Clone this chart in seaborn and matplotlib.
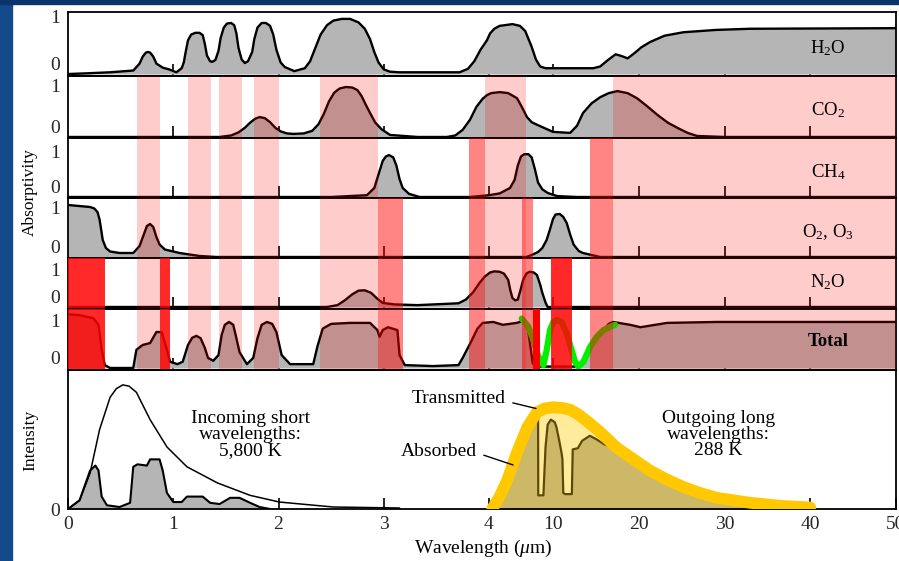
import numpy as np
import matplotlib
matplotlib.use('Agg')
import matplotlib.pyplot as plt
import seaborn as sns
from matplotlib.patches import Rectangle

# ---- absorptivity curves (wavelength in micrometres, absorptivity 0-1) ----
h2o_x = [0, 0.15, 0.40, 0.62, 0.68, 0.71, 0.74, 0.76, 0.78, 0.81, 0.84, 0.90, 0.96, 1.03, 1.08, 1.10,
         1.12, 1.14, 1.17, 1.21, 1.25, 1.28, 1.30, 1.32, 1.35, 1.37, 1.40, 1.43, 1.45, 1.48, 1.51, 1.55,
         1.58, 1.60, 1.62, 1.65, 1.68, 1.71, 1.75, 1.77, 1.80, 1.84, 1.88, 1.92, 1.95, 1.98, 2.02, 2.06,
         2.15, 2.25, 2.30, 2.35, 2.40, 2.46, 2.52, 2.60, 2.68, 2.76, 2.82, 2.87, 2.91, 2.95, 3.00, 3.06,
         3.15, 3.72, 3.80, 3.86, 3.92, 3.98, 4.1, 4.5, 5.0, 6.2, 6.9, 7.4, 8.0, 8.4, 8.8, 9.3, 14.7, 15.5,
         16.4, 17.3, 18.0, 18.7, 19.5, 20.3, 21.3, 23.0, 25.2, 29.0, 33.0, 50]
h2o_y = [0, 0.01, 0.03, 0.06, 0.18, 0.30, 0.37, 0.38, 0.37, 0.30, 0.18, 0.11, 0.08, 0.03, 0.10, 0.20,
         0.40, 0.58, 0.68, 0.71, 0.71, 0.67, 0.52, 0.32, 0.22, 0.21, 0.24, 0.40, 0.62, 0.80, 0.87, 0.88,
         0.84, 0.70, 0.45, 0.25, 0.19, 0.22, 0.38, 0.60, 0.80, 0.88, 0.88, 0.83, 0.68, 0.42, 0.20, 0.12,
         0.05, 0.10, 0.22, 0.45, 0.68, 0.84, 0.92, 0.95, 0.95, 0.89, 0.78, 0.60, 0.38, 0.20, 0.08, 0.04,
         0.03, 0.03, 0.09, 0.22, 0.42, 0.58, 0.70, 0.78, 0.83, 0.86, 0.83, 0.74, 0.47, 0.25, 0.13, 0.10, 0.10, 0.13,
         0.24, 0.34, 0.31, 0.27, 0.36, 0.46, 0.55, 0.66, 0.72, 0.76, 0.78, 0.79]

co2_x = [0, 1.44, 1.55, 1.62, 1.68, 1.73, 1.78, 1.82, 1.87, 1.92, 1.97, 2.02, 2.08, 2.14, 2.24, 2.32,
         2.38, 2.43, 2.48, 2.53, 2.58, 2.64, 2.70, 2.75, 2.79, 2.83, 2.87, 2.92, 2.98, 3.06, 3.32, 3.60,
         3.68, 3.75, 3.82, 3.88, 3.94, 3.98, 4.2, 5.03, 5.8, 6.63, 7.1, 7.56, 8.0, 8.5, 10.0, 12.0,
         12.8, 13.5, 14.5, 15.5, 16.5, 17.5, 18.7, 19.8, 21.0, 22.2, 23.4, 24.5, 25.7, 26.8, 30, 50]
co2_y = [0, 0, 0.03, 0.09, 0.18, 0.28, 0.36, 0.39, 0.37, 0.29, 0.18, 0.11, 0.07, 0.06, 0.07, 0.12,
         0.25, 0.45, 0.70, 0.87, 0.95, 0.98, 0.97, 0.92, 0.80, 0.63, 0.47, 0.28, 0.15, 0.04, 0, 0,
         0.03, 0.14, 0.34, 0.59, 0.75, 0.82, 0.86, 0.88, 0.86, 0.76, 0.58, 0.39, 0.29, 0.24, 0.10, 0.08,
         0.22, 0.47, 0.66, 0.78, 0.86, 0.90, 0.86, 0.76, 0.60, 0.43, 0.28, 0.18, 0.08, 0.02, 0, 0]

ch4_x = [0, 2.50, 2.84, 2.91, 2.95, 2.99, 3.02, 3.05, 3.09, 3.12, 3.15, 3.18, 3.24, 3.34, 3.82, 4.0,
         5.0, 5.97, 6.4, 6.7, 7.0, 7.3, 7.7, 8.0, 8.3, 8.6, 9.0, 9.5, 10.5, 12.8, 50]
ch4_y = [0, 0, 0.04, 0.20, 0.50, 0.80, 0.90, 0.93, 0.88, 0.70, 0.40, 0.20, 0.07, 0, 0, 0.04,
         0.08, 0.20, 0.38, 0.70, 0.90, 0.95, 0.95, 0.88, 0.62, 0.32, 0.17, 0.09, 0.02, 0, 0]

o3_x = [0, 0.21, 0.25, 0.28, 0.30, 0.33, 0.36, 0.40, 0.49, 0.62, 0.68, 0.72, 0.75, 0.78, 0.81, 0.84,
        0.87, 0.92, 1.06, 1.25, 1.41, 7.5, 8.0, 8.6, 9.0, 9.4, 9.7, 10.0, 10.3, 10.8, 11.2, 11.6, 12.0,
        12.4, 13.0, 13.5, 15.5, 50]
o3_y = [1.04, 1.0, 0.97, 0.90, 0.75, 0.34, 0.18, 0.11, 0.08, 0.08, 0.22, 0.45, 0.62, 0.66, 0.60, 0.40,
        0.25, 0.15, 0.08, 0.02, 0, 0, 0.04, 0.10, 0.18, 0.34, 0.54, 0.76, 0.85, 0.86, 0.80, 0.68, 0.45,
        0.25, 0.12, 0.08, 0, 0]

n2o_x = [0, 2.46, 2.56, 2.63, 2.70, 2.76, 2.82, 2.88, 2.94, 2.99, 3.1, 3.32, 3.71, 3.78, 3.85, 3.91,
         3.96, 4.1, 4.5, 5.0, 5.4, 5.8, 6.0, 6.2, 6.45, 6.7, 6.95, 7.2, 7.5, 7.8, 8.2, 8.5, 8.8, 9.0,
         9.3, 9.5, 50]
n2o_y = [0, 0, 0.05, 0.18, 0.34, 0.44, 0.45, 0.38, 0.22, 0.11, 0.07, 0.05, 0.10, 0.20, 0.40, 0.65,
         0.82, 0.93, 0.96, 0.95, 0.90, 0.73, 0.45, 0.24, 0.18, 0.20, 0.45, 0.73, 0.90, 0.95, 0.93, 0.86, 0.60, 0.38,
         0.12, 0, 0]

tot_x = [0, 0.11, 0.24, 0.29, 0.32, 0.35, 0.40, 0.62, 0.65, 0.71, 0.78, 0.84, 0.89, 0.94, 0.97, 1.04,
         1.09, 1.14, 1.18, 1.22, 1.26, 1.30, 1.33, 1.38, 1.43, 1.46, 1.49, 1.53, 1.57, 1.60, 1.63, 1.70,
         1.76, 1.80, 1.84, 1.89, 1.94, 1.98, 2.03, 2.11, 2.33, 2.37, 2.42, 2.50, 2.68, 2.87, 2.94, 2.96,
         2.99, 3.04, 3.13, 3.15, 3.20, 3.47, 3.71, 3.75, 3.83, 3.89, 3.94, 4.4, 5.3, 6.6, 7.2, 7.6, 8.1,
         8.4, 13.0, 14.0, 15.0, 16.5, 17.0, 19.0, 20.2, 23.3, 29.2, 50]
tot_y = [1.12, 1.10, 1.04, 0.90, 0.38, 0.06, 0, 0, 0.38, 0.48, 0.52, 0.75, 0.75, 0.38, 0.13, 0.08,
         0.13, 0.48, 0.63, 0.67, 0.62, 0.42, 0.21, 0.15, 0.27, 0.69, 0.90, 0.96, 0.90, 0.62, 0.33, 0.08,
         0.21, 0.62, 0.90, 0.96, 0.92, 0.75, 0.27, 0.08, 0.08, 0.45, 0.82, 0.92, 0.94, 0.94, 0.79, 0.65,
         0.79, 0.85, 0.79, 0.27, 0.06, 0.04, 0.06, 0.21, 0.55, 0.82, 0.94, 0.96, 0.90, 0.94, 0.98, 0.90, 0.10,
         0.03, 0.03, 0.30, 0.60, 0.92, 0.96, 0.90, 0.85, 0.94, 0.96, 0.96]

# highlighted atmospheric window (green)
win_x = [7.07, 7.69, 8.16, 8.62, 9.09, 9.41, 9.72, 10.04, 10.43, 11.01, 11.6, 12.18, 12.57, 12.96,
         13.55, 14.33, 15.11, 15.89, 16.67, 17.25]
win_y = [1.03, 0.86, 0.58, 0.24, 0.06, 0.37, 0.79, 0.96, 1.0, 0.96, 0.72, 0.37, 0.13, 0.03,
         0.13, 0.44, 0.65, 0.79, 0.86, 0.90]

panel_names = [r'H$_2$O', r'CO$_2$', r'CH$_4$', r'O$_2$, O$_3$', r'N$_2$O', 'Total']
panel_x = [h2o_x, co2_x, ch4_x, o3_x, n2o_x, tot_x]
panel_y = [h2o_y, co2_y, ch4_y, o3_y, n2o_y, tot_y]

# shaded absorption bands (wavelength ranges) and first panel they start in
light_bands = [(0.66, 0.87), (1.14, 1.36), (1.43, 1.65), (1.77, 2.0), (2.39, 2.95), (3.96, 7.5), (17.0, 50)]
dark_bands_ch4 = [(3.81, 3.96), (14.3, 17.0)]
dark_bands_o3 = [(2.95, 3.18), (7.1, 8.1)]
bright_bands = [(0, 0.35), (0.87, 0.97), (9.8, 12.2)]
red_bar = [(8.1, 8.8)]

# ---- intensity panel ----
sun_x = [0, 0.11, 0.21, 0.30, 0.40, 0.46, 0.52, 0.58, 0.65, 0.78, 0.94, 1.13, 1.42, 1.73, 2.01, 2.52, 3.15]
sun_y = [0, 0.07, 0.29, 0.64, 0.90, 0.97, 1.0, 0.99, 0.94, 0.72, 0.50, 0.34, 0.21, 0.11, 0.056, 0.016, 0.008]
sun_tr_x = [0, 0.11, 0.21, 0.26, 0.29, 0.32, 0.37, 0.49, 0.59, 0.62, 0.66, 0.75, 0.78, 0.87, 0.90, 0.94,
            1.0, 1.08, 1.13, 1.28, 1.35, 1.44, 1.54, 1.63, 1.73, 1.82, 1.92]
sun_tr_y = [0, 0.07, 0.31, 0.35, 0.31, 0.10, 0.03, 0.016, 0.05, 0.34, 0.36, 0.35, 0.40, 0.40, 0.31, 0.13,
            0.056, 0.056, 0.10, 0.10, 0.05, 0.04, 0.09, 0.09, 0.05, 0.016, 0]
earth_x = [4.3, 5.0, 5.7, 6.6, 7.6, 8.5, 9.2, 10, 11, 12, 13, 14.3, 15.8, 17.5, 19.4, 21.3, 23.2, 25.1,
           27.1, 29.1, 33, 36.8, 40]
earth_y = [0.0, 0.10, 0.23, 0.45, 0.66, 0.78, 0.81, 0.82, 0.815, 0.80, 0.76, 0.69, 0.60, 0.49, 0.40, 0.31,
           0.24, 0.18, 0.13, 0.09, 0.05, 0.024, 0.012]
earth_abs_x = [4.3, 5.7, 6.6, 7.6, 8.5, 8.6, 8.62, 9.1, 9.3, 9.5, 9.8, 10.2, 10.4, 10.7, 11.0, 11.1, 11.2,
               11.4, 12.2, 12.3, 12.9, 13.4, 14.3, 15.1, 16.0, 17.5, 21.3, 25.1, 29.1, 33, 36.8, 40]
earth_abs_y = [0.0, 0.23, 0.45, 0.66, 0.76, 0.76, 0.11, 0.11, 0.50, 0.68, 0.72, 0.70, 0.66, 0.56, 0.45, 0.40,
               0.13, 0.12, 0.12, 0.48, 0.49, 0.55, 0.59, 0.56, 0.52, 0.49, 0.31, 0.18, 0.09, 0.05, 0.024, 0.012]

tick_vals = [0, 1, 2, 3, 4, 10, 20, 30, 40, 50]

# piecewise wavelength axis: 0-4 stretched, 4-10 and 10-50 compressed
XK = [0, 4, 10, 50]
PK = [0, 421, 485, 828]


def fwd(x):
    return np.interp(x, XK, PK)


def inv(p):
    return np.interp(p, PK, XK)


sns.set_theme(style='white')
plt.rcParams['font.family'] = ['Liberation Serif', 'DejaVu Serif']
plt.rcParams['mathtext.fontset'] = 'custom'
plt.rcParams['mathtext.rm'] = 'Liberation Serif'
plt.rcParams['mathtext.it'] = 'Liberation Serif:italic'
plt.rcParams['mathtext.bf'] = 'Liberation Serif:bold'
plt.rcParams['text.color'] = 'black'

W, H = 899, 561
fig = plt.figure(figsize=(W / 100, H / 100), dpi=100)
fig.patch.set_facecolor('white')
fig.add_artist(Rectangle((0, 0), 12 / W, 1, transform=fig.transFigure, color='#124a8a', zorder=0))
fig.add_artist(Rectangle((0, 1 - 4 / H), 1, 4 / H, transform=fig.transFigure, color='#0b3468', zorder=0))


def box(top, bottom):
    return [68 / W, 1 - bottom / H, (896 - 68) / W, (bottom - top) / H]


edges = [12, 76, 138, 198, 258, 309, 370]
ylims = [(-0.034, 1.069), (-0.02, 1.196), (-0.022, 1.31), (-0.02, 1.18), (-0.054, 1.32), (-0.042, 1.23)]
name_y = [48, 110, 172, 232, 282, 342]

band_groups = [(light_bands, 1, 0.2), (dark_bands_ch4, 2, 0.48), (dark_bands_o3, 3, 0.48),
               (bright_bands, 4, 0.84), (red_bar, 5, 1.0)]

for i in range(6):
    ax = fig.add_axes(box(edges[i], edges[i + 1]))
    ax.set_facecolor('none')
    ax.fill_between(panel_x[i], panel_y[i], 0, color='#b5b5b5', lw=0, zorder=1)
    sns.lineplot(x=panel_x[i], y=panel_y[i], ax=ax, color='black', lw=1.7,
                 sort=False, estimator=None, zorder=2, solid_joinstyle='round')
    if i == 5:
        sns.lineplot(x=win_x, y=win_y, ax=ax, color='#00f000', lw=4.5,
                     sort=False, estimator=None, zorder=2.2, solid_capstyle='round',
                     solid_joinstyle='round')
    for bands, first, alpha in band_groups:
        if i >= first:
            for a, b in bands:
                ax.axvspan(a, b, color='red', alpha=alpha, lw=0, zorder=3)
    ax.set_xscale('function', functions=(fwd, inv))
    ax.set_xlim(0, 50)
    ax.set_ylim(*ylims[i])
    ax.set_xticks(tick_vals[1:-1])
    ax.set_xticklabels([])
    ax.set_yticks([0, 1], ['0', '1'])
    ax.get_yticklabels()[0].set_verticalalignment('bottom')
    ax.tick_params(axis='x', direction='in', length=9, width=1.2, color='black', bottom=True)
    ax.tick_params(axis='y', length=0, pad=6, labelsize=14)
    ax.set_xlabel('')
    ax.set_ylabel('')
    for s in ax.spines.values():
        s.set_color('black')
        s.set_linewidth(1.3)
    fig.text(828 / W, 1 - name_y[i] / H, panel_names[i], ha='center', va='center', fontsize=13.5,
             fontweight='bold' if i == 5 else 'normal', zorder=6)

# intensity panel
ax = fig.add_axes(box(370, 509))
ax.set_facecolor('none')
ax.fill_between(sun_tr_x, sun_tr_y, 0, color='#b5b5b5', lw=0, zorder=1)
sns.lineplot(x=sun_tr_x, y=sun_tr_y, ax=ax, color='black', lw=1.5, sort=False, estimator=None, zorder=2)
sns.lineplot(x=sun_x, y=sun_y, ax=ax, color='black', lw=1.1, sort=False, estimator=None, zorder=2)
ax.fill_between(earth_x, earth_y, 0, color='#ffeb99', lw=0, zorder=1)
ax.fill_between(earth_abs_x, earth_abs_y, 0, color='#cdb868', lw=0, zorder=1.1)
sns.lineplot(x=earth_abs_x, y=earth_abs_y, ax=ax, color='#5e4a08', lw=1.6, sort=False, estimator=None, zorder=2)
sns.lineplot(x=earth_x, y=earth_y, ax=ax, color='#ffc800', lw=8.5, sort=False, estimator=None, zorder=3,
             solid_joinstyle='round')
ax.set_xscale('function', functions=(fwd, inv))
ax.set_xlim(0, 50)
ax.set_ylim(0, 1.12)
ax.set_xticks(tick_vals, [str(v) for v in tick_vals])
ax.set_yticks([0], ['0'])
ax.tick_params(axis='x', direction='in', length=8, width=1.2, color='black', bottom=True,
               pad=5, labelsize=14)
ax.tick_params(axis='y', length=0, pad=6, labelsize=14)
ax.set_xlabel('')
ax.set_ylabel('')
for s in ax.spines.values():
    s.set_color('black')
    s.set_linewidth(1.3)

ax.text(1.73, 0.6, 'Incoming short\nwavelengths:\n5,800 K', ha='center', va='center',
        fontsize=14, linespacing=0.9, zorder=5)
ax.text(29.3, 0.6, 'Outgoing long\nwavelengths:\n288 K', ha='center', va='center',
        fontsize=14, linespacing=0.9, zorder=5)
ax.annotate('Transmitted', xy=(8.4, 0.81), xytext=(3.71, 0.89), ha='center', va='center', fontsize=14,
            arrowprops=dict(arrowstyle='-', lw=1, color='black', relpos=(1.0, 0.35), shrinkA=3, shrinkB=0),
            zorder=5)
ax.annotate('Absorbed', xy=(6.25, 0.355), xytext=(3.52, 0.46), ha='center', va='center', fontsize=14,
            arrowprops=dict(arrowstyle='-', lw=1, color='black', relpos=(1.0, 0.45), shrinkA=3, shrinkB=0),
            zorder=5)

fig.text(30 / W, 1 - 192 / H, 'Absorptivity', rotation=90, ha='center', va='center', fontsize=12.5)
fig.text(30 / W, 1 - 440 / H, 'Intensity', rotation=90, ha='center', va='center', fontsize=12.5)
fig.text(483 / W, 1 - 548 / H, r'Wavelength ($\mu$m)', ha='center', va='center', fontsize=14)

fig.savefig('out.png', dpi=100)
